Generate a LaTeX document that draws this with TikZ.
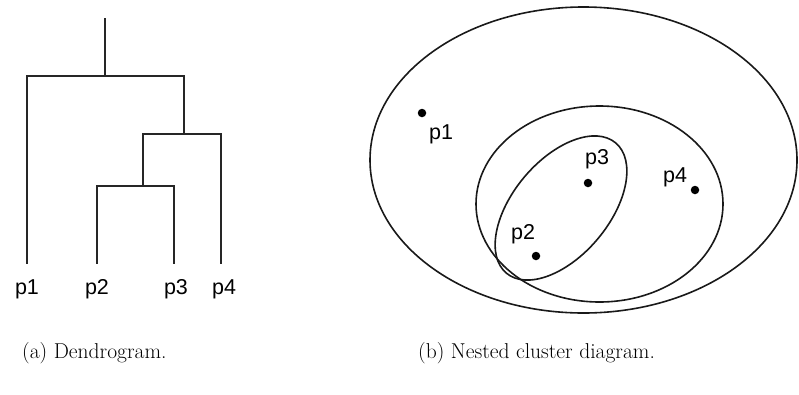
\documentclass[tikz,border=0pt]{standalone}
\usepackage{fontspec}
\newfontfamily\labelfont{Liberation Sans}
\begin{document}
\begin{tikzpicture}[x=1pt,y=-1pt,
  dend/.style={line width=2pt,draw=black!85,line cap=rect},
  clus/.style={line width=1.6pt,draw=black!90},
  ptlabel/.style={font=\labelfont\fontsize{21.5}{21.5}\selectfont,inner sep=0pt},
  dot/.style={circle,fill=black,inner sep=0pt,minimum size=8.5pt},
  caption/.style={font=\fontsize{21.5}{21.5}\selectfont,inner sep=0pt,anchor=base west}]
\useasboundingbox (0,0) rectangle (799,394);
% dendrogram
\coordinate (top) at (105,19);
\coordinate (r1) at (105,76);
\coordinate (l1) at (27,76);
\coordinate (rr1) at (184,76);
\coordinate (r2) at (184,134);
\coordinate (l2) at (143,134);
\coordinate (rr2) at (221,134);
\coordinate (r3) at (143,186);
\coordinate (l3) at (97,186);
\coordinate (rr3) at (174,186);
\coordinate (e1) at (27,263);
\coordinate (e2) at (97,263);
\coordinate (e3) at (174,263);
\coordinate (e4) at (221,263);
\draw[dend] (top) -- (r1);
\draw[dend] (e1) -- (l1) -- (rr1) -- (r2);
\draw[dend] (r3) -- (l2) -- (rr2) -- (e4);
\draw[dend] (e2) -- (l3) -- (rr3) -- (e3);
\node[ptlabel] (d1) at (27,289) {p1};
\node[ptlabel] (d2) at (97,289) {p2};
\node[ptlabel] (d3) at (176,289) {p3};
\node[ptlabel] (d4) at (224,289) {p4};
% nested clusters
\draw[clus] (583.5,160) ellipse [x radius=213.5, y radius=153];
\draw[clus] (599.5,204) ellipse [x radius=123.5, y radius=98];
\draw[clus,rotate around={50:(561,208)}] (561,208) ellipse [x radius=85, y radius=48];
\node[dot] (q1) at (422,113) {};
\node[dot] (q2) at (536,256) {};
\node[dot] (q3) at (588,183) {};
\node[dot] (q4) at (695,190) {};
\node[ptlabel] (t1) at (441,134) {p1};
\node[ptlabel] (t2) at (523,234) {p2};
\node[ptlabel] (t3) at (597,159) {p3};
\node[ptlabel] (t4) at (675,177) {p4};
% captions
\node[caption] (ca) at (22,358) {(a) Dendrogram.};
\node[caption] (cb) at (418,358) {(b) Nested cluster diagram.};
\end{tikzpicture}
\end{document}
